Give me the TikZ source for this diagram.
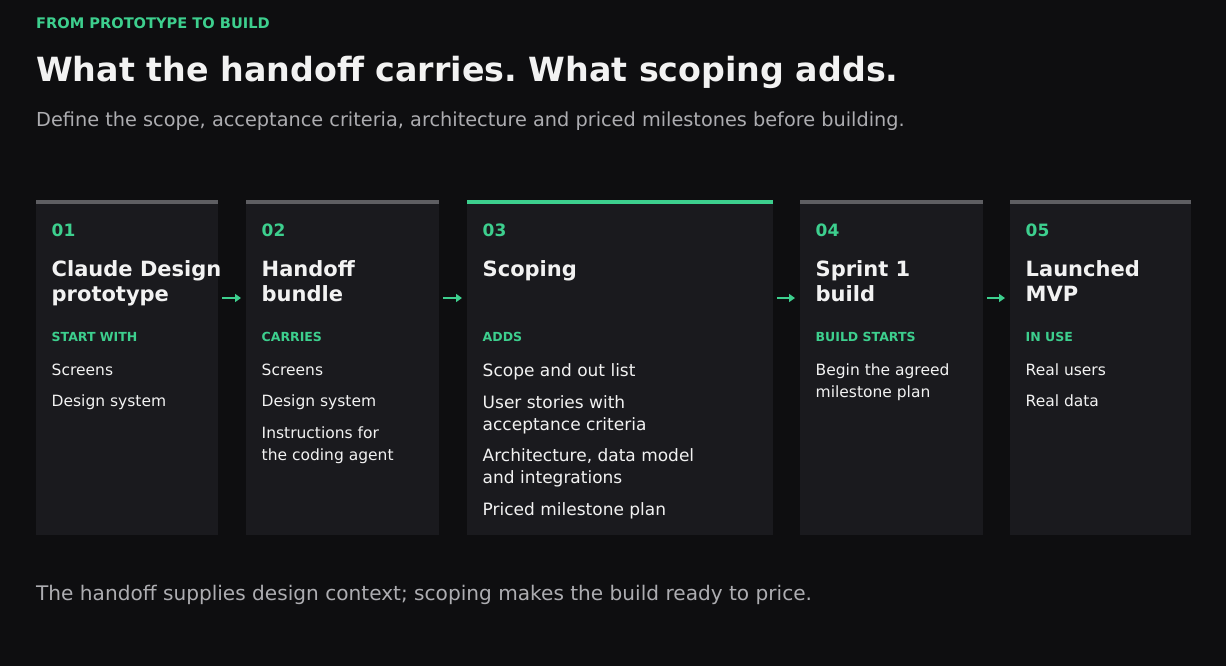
\documentclass[tikz,border=0pt]{standalone}
\usepackage{fontspec}
\setmainfont{DejaVu Sans}
\usetikzlibrary{arrows.meta}
\frenchspacing

\definecolor{bgdark}{HTML}{0E0E10}
\definecolor{cardfill}{HTML}{1A1A1E}
\definecolor{bargray}{HTML}{5E5E62}
\definecolor{accent}{HTML}{3DCF8E}
\definecolor{inkwhite}{HTML}{F2F2F2}
\definecolor{inkgray}{HTML}{ADADB1}

\begin{document}
\begin{tikzpicture}[x=1pt,y=-1pt,
  card/.style={fill=cardfill, draw=none, anchor=north west, minimum height=335, inner sep=0},
  num/.style={anchor=base west, inner sep=0, text=accent, font=\fontsize{17}{20}\selectfont\bfseries},
  stagetitle/.style={anchor=base west, inner sep=0, text=inkwhite, align=left, font=\fontsize{21}{25}\selectfont\bfseries},
  tag/.style={anchor=base west, inner sep=0, text=accent, font=\fontsize{12.5}{15}\selectfont\bfseries},
  item/.style={anchor=base west, inner sep=0, text=inkwhite, align=left, font=\fontsize{15.5}{22}\selectfont},
  bigitem/.style={item, font=\fontsize{17}{21.7}\selectfont},
  flow/.style={draw=accent, line width=2pt, -{Triangle[length=6pt,width=8pt]}, shorten <=4pt, shorten >=5pt}]

\fill[bgdark] (0,0) rectangle (1226,666);
\useasboundingbox (0,0) rectangle (1226,666);

% header
\node[anchor=base west, inner sep=0, text=accent, font=\fontsize{14.6}{17}\selectfont\bfseries] (eyebrow) at (36,29) {FROM PROTOTYPE TO BUILD};
\node[anchor=base west, inner sep=0, text=inkwhite, font=\fontsize{33.3}{38}\selectfont\bfseries] (headline) at (36,82) {What the handoff carries. What scoping adds.};
\node[anchor=base west, inner sep=0, text=inkgray, font=\fontsize{19.3}{22}\selectfont] (subline) at (36,127) {Define the scope, acceptance criteria, architecture and priced milestones before building.};

% cards
\node[card, minimum width=182] (c1) at (36,200) {};
\node[card, minimum width=193] (c2) at (246,200) {};
\node[card, minimum width=306] (c3) at (467,200) {};
\node[card, minimum width=183] (c4) at (800,200) {};
\node[card, minimum width=181] (c5) at (1010,200) {};

% top bars
\fill[bargray] (c1.north west) rectangle ++(182,4);
\fill[bargray] (c2.north west) rectangle ++(193,4);
\fill[accent] (c3.north west) rectangle ++(306,4);
\fill[bargray] (c4.north west) rectangle ++(183,4);
\fill[bargray] (c5.north west) rectangle ++(181,4);

% card 1 (multi-line nodes sit on their last baseline)
\node[num] (n1) at (51.5,236) {01};
\node[stagetitle] (s1) at (51.5,301) {Claude Design\\prototype};
\node[tag] (g1) at (51.5,341) {START WITH};
\node[item] (i1a) at (51.5,375) {Screens};
\node[item] (i1b) at (51.5,406.7) {Design system};

% card 2
\node[num] (n2) at (261.5,236) {02};
\node[stagetitle] (s2) at (261.5,301) {Handoff\\bundle};
\node[tag] (g2) at (261.5,341) {CARRIES};
\node[item] (i2a) at (261.5,375) {Screens};
\node[item] (i2b) at (261.5,406.7) {Design system};
\node[item] (i2c) at (261.5,460.4) {Instructions for\\the coding agent};

% card 3
\node[num] (n3) at (482.5,236) {03};
\node[stagetitle] (s3) at (482.5,276) {Scoping};
\node[tag] (g3) at (482.5,341) {ADDS};
\node[bigitem] (i3a) at (482.5,376.7) {Scope and out list};
\node[bigitem] (i3b) at (482.5,430) {User stories with\\acceptance criteria};
\node[bigitem] (i3c) at (482.5,483.4) {Architecture, data model\\and integrations};
\node[bigitem] (i3d) at (482.5,515) {Priced milestone plan};

% card 4
\node[num] (n4) at (815.5,236) {04};
\node[stagetitle] (s4) at (815.5,301) {Sprint 1\\build};
\node[tag] (g4) at (815.5,341) {BUILD STARTS};
\node[item] (i4a) at (815.5,397) {Begin the agreed\\milestone plan};

% card 5
\node[num] (n5) at (1025.5,236) {05};
\node[stagetitle] (s5) at (1025.5,301) {Launched\\MVP};
\node[tag] (g5) at (1025.5,341) {IN USE};
\node[item] (i5a) at (1025.5,375) {Real users};
\node[item] (i5b) at (1025.5,406.7) {Real data};

% arrows
\path (c1.north east) ++(0,98) coordinate (a1);
\path (c2.north west) ++(0,98) coordinate (b2);
\path (c2.north east) ++(0,98) coordinate (a2);
\path (c3.north west) ++(0,98) coordinate (b3);
\path (c3.north east) ++(0,98) coordinate (a3);
\path (c4.north west) ++(0,98) coordinate (b4);
\path (c4.north east) ++(0,98) coordinate (a4);
\path (c5.north west) ++(0,98) coordinate (b5);
\draw[flow] (a1) -- (b2);
\draw[flow] (a2) -- (b3);
\draw[flow] (a3) -- (b4);
\draw[flow] (a4) -- (b5);

% footer
\node[anchor=base west, inner sep=0, text=inkgray, font=\fontsize{20.1}{23}\selectfont] (footline) at (36,600) {The handoff supplies design context; scoping makes the build ready to price.};
\end{tikzpicture}
\end{document}
